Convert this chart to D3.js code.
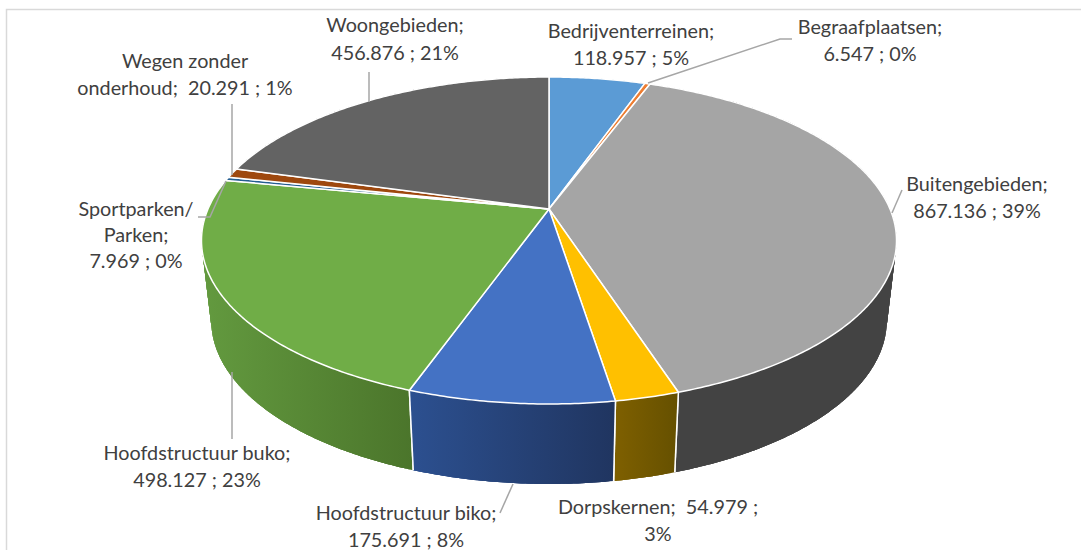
<!DOCTYPE html>
<html>
<head>
<meta charset="utf-8">
<script src="https://cdn.jsdelivr.net/npm/d3@7"></script>
<style>
html,body{margin:0;padding:0;background:#fff}
svg{display:block}
text{font-family:Lato,"Noto Sans",sans-serif;font-size:19.8px;fill:#404040;text-anchor:middle}
</style>
</head>
<body>
<svg id="chart" width="1081" height="550"></svg>
<script>
const categories = ["Bedrijventerreinen","Begraafplaatsen","Buitengebieden","Dorpskernen","Hoofdstructuur biko","Hoofdstructuur buko","Sportparken/ Parken","Wegen zonder onderhoud","Woongebieden"];
const values = [118957,6547,867136,54979,175691,498127,7969,20291,456876];
const colors = ["#5b9bd5","#ed7d31","#a5a5a5","#ffc000","#4472c4","#70ad47","#255e91","#9e480e","#636363"];
const sideFrom = ["#3f6d97","#a85823","#434343","#7f6000","#2c5090","#639a3f","#1a4267","#70330a","#464646"];
const sideTo = ["#3f6d97","#a85823","#434343","#655000","#203560","#4b752b","#1a4267","#70330a","#464646"];
const labelLines = [
  ["Bedrijventerreinen;","118.957 ; 5%"],
  ["Begraafplaatsen;","6.547 ; 0%"],
  ["Buitengebieden;","867.136 ; 39%"],
  ["Dorpskernen;  54.979 ;","3%"],
  ["Hoofdstructuur biko;","175.691 ; 8%"],
  ["Hoofdstructuur buko;","498.127 ; 23%"],
  ["Sportparken/","Parken;","7.969 ; 0%"],
  ["Wegen zonder","onderhoud;  20.291 ; 1%"],
  ["Woongebieden;","456.876 ; 21%"]
];
const labelX = [631,870,977,658,406,197,136,185,395];
const labelY = [[38,65],[34,61],[191,218],[514,541],[520,547],[460,487],[216,242,268],[68,95],[32,60]];
const leaders = [
  null,
  [[648,83],[780,39],[792,39]],
  [[892,213],[902,190]],
  null,
  [[513,484],[500,513]],
  [[232,372],[232,439]],
  [[198,217],[210,217],[226,181]],
  [[232,104],[232,175]],
  [[369,72],[369,102]]
];

const svg = d3.select("#chart");
const cx = 549, cy = 209, RX = 341, RY = 157.4, K = 0.1927, DEPTH = 80, BOTTOM_SCALE = 0.972;

function upper(a){
  const u = Math.sin(a), v = -Math.cos(a), w = 1 - K*v;
  return [cx + RX*u/w, cy + RY*v/w];
}
function lower(a){
  const p = upper(a);
  return [cx + BOTTOM_SCALE*(p[0]-cx), p[1] + DEPTH];
}
const arcs = d3.pie().sort(null).value(d => d)(values);
function samples(d){
  const n = Math.max(2, Math.ceil((d.endAngle-d.startAngle)/0.01));
  return d3.range(n+1).map(i => d.startAngle + (d.endAngle-d.startAngle)*i/n);
}
const line = d3.line();
const defs = svg.append("defs");

// frame
svg.append("path").attr("d", line([[6.5,550],[6.5,9.5],[1081,9.5]]))
  .attr("fill","none").attr("stroke","#d9d9d9").attr("stroke-width",1.5);

// sides: back to front, overlapping quads along the arc so the silhouette follows the extrusion without seams
const order = arcs.map((d,i)=>i).sort((a,b)=>
  -Math.cos((arcs[a].startAngle+arcs[a].endAngle)/2) - -Math.cos((arcs[b].startAngle+arcs[b].endAngle)/2));
order.forEach(i=>{
  const d = arcs[i], as = samples(d);
  const t = as.map(upper), b = as.map(lower);
  const xs = t.concat(b).map(p=>p[0]);
  defs.append("linearGradient").attr("id","g"+i).attr("gradientUnits","userSpaceOnUse")
    .attr("x1",d3.min(xs)).attr("x2",d3.max(xs)).attr("y1",0).attr("y2",0)
    .selectAll("stop").data([[0,sideFrom[i]],[1,sideTo[i]]]).join("stop")
    .attr("offset",s=>s[0]).attr("stop-color",s=>s[1]);
  const g = svg.append("g").attr("fill","url(#g"+i+")");
  d3.range(as.length-1).forEach(k=>{
    const e = Math.min(k+3, as.length-1);
    g.append("path").attr("d", line(t.slice(k,e+1).concat(b.slice(k,e+1).reverse()))+"Z");
  });
  g.append("path").attr("d", line([t[0],b[0]])).attr("stroke","#fff").attr("stroke-width",1.5);
  g.append("path").attr("d", line([t[t.length-1],b[b.length-1]])).attr("stroke","#fff").attr("stroke-width",1.5);
});

// top surface
arcs.forEach((d,i)=>{
  svg.append("path").attr("d", line([[cx,cy]].concat(samples(d).map(upper)))+"Z")
    .attr("fill",colors[i]).attr("stroke","#fff").attr("stroke-width",1.5).attr("stroke-linejoin","round");
});

// leader lines
leaders.forEach(l=>{
  if(l) svg.append("path").attr("d",line(l)).attr("fill","none").attr("stroke","#a6a6a6").attr("stroke-width",1.5);
});

// labels
labelLines.forEach((lines,i)=>{
  lines.forEach((s,j)=>{
    svg.append("text").attr("x",labelX[i]).attr("y",labelY[i][j]).style("white-space","pre").text(s);
  });
});
</script>
</body>
</html>
